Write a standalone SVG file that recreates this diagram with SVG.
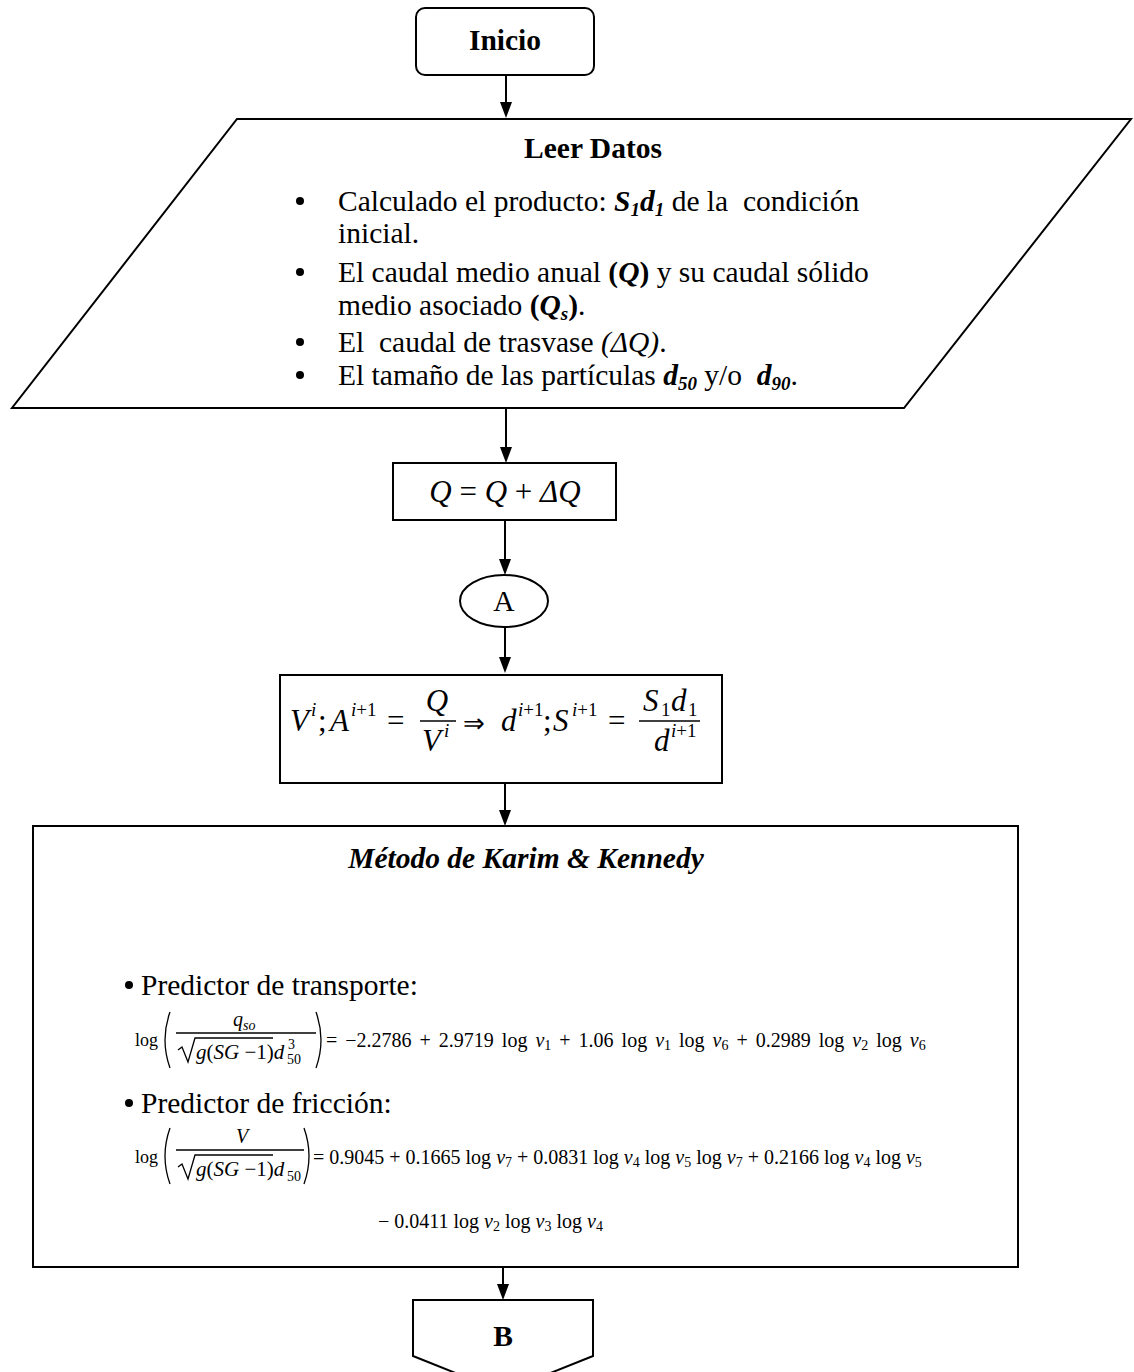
<svg xmlns="http://www.w3.org/2000/svg" width="1134" height="1372" viewBox="0 0 1134 1372">
<style>
text{font-family:"Liberation Serif","Times New Roman",serif;fill:#000}
.b{font-weight:bold}
.i{font-style:italic}
.bi{font-weight:bold;font-style:italic}
.t{font-size:29.5px}
.m{font-size:31px}
.sup{font-size:19px}
.f{font-size:20px}
.s{font-size:14px}
.shape{fill:#fff;stroke:#000;stroke-width:2}
.ln{stroke:#000;stroke-width:2;fill:none}
.thin{stroke:#000;stroke-width:1.3;fill:none}
</style>
<g id="connectors">
<line class="ln" x1="506" y1="75" x2="506" y2="104"/><path d="M500,102 L512,102 L506,118 Z"/>
<line class="ln" x1="506" y1="408" x2="506" y2="449"/><path d="M500,447 L512,447 L506,463 Z"/>
<line class="ln" x1="505" y1="520" x2="505" y2="561"/><path d="M499,559 L511,559 L505,575 Z"/>
<line class="ln" x1="505" y1="627" x2="505" y2="659"/><path d="M499,657 L511,657 L505,673 Z"/>
<line class="ln" x1="505" y1="783" x2="505" y2="812"/><path d="M499,810 L511,810 L505,826 Z"/>
<line class="ln" x1="503" y1="1267" x2="503" y2="1286"/><path d="M497,1284 L509,1284 L503,1300 Z"/>
</g>
<g id="inicio">
<rect class="shape" x="416" y="8" width="178" height="67" rx="9"/>
<text class="b t" x="505" y="50" text-anchor="middle">Inicio</text>
</g>
<g id="leer-datos">
<polygon class="shape" points="237,119 1131,119 904,408 12,408"/>
<text class="b t" x="593" y="158" text-anchor="middle">Leer Datos</text>
<g class="t">
<circle cx="300" cy="201" r="4"/>
<circle cx="300" cy="272" r="4"/>
<circle cx="300" cy="342" r="4"/>
<circle cx="300" cy="375" r="4"/>
<text x="338" y="211" xml:space="preserve">Calculado el producto: <tspan class="bi">S</tspan><tspan class="bi" font-size="19" dy="5">1</tspan><tspan class="bi" dy="-5">d</tspan><tspan class="bi" font-size="19" dy="5">1</tspan><tspan dy="-5"> de la  condición</tspan></text>
<text x="338" y="243">inicial.</text>
<text x="338" y="282">El caudal medio anual <tspan class="b">(</tspan><tspan class="bi">Q</tspan><tspan class="b">)</tspan> y su caudal sólido</text>
<text x="338" y="315">medio asociado <tspan class="b">(</tspan><tspan class="bi">Q</tspan><tspan class="bi" font-size="19" dy="5">s</tspan><tspan class="b" dy="-5">)</tspan>.</text>
<text x="338" y="352" xml:space="preserve">El  caudal de trasvase <tspan class="i">(ΔQ)</tspan>.</text>
<text x="338" y="385" xml:space="preserve">El tamaño de las partículas <tspan class="bi">d</tspan><tspan class="bi" font-size="19" dy="5">50</tspan><tspan dy="-5"> y/o  </tspan><tspan class="bi">d</tspan><tspan class="bi" font-size="19" dy="5">90</tspan><tspan dy="-5">.</tspan></text>
</g>
</g>
<g id="q-update">
<rect class="shape" x="393" y="463" width="223" height="57"/>
<text x="505" y="502" text-anchor="middle" font-size="31"><tspan class="i">Q</tspan> = <tspan class="i">Q</tspan> + <tspan class="i">ΔQ</tspan></text>
</g>
<g id="conector-a">
<ellipse class="shape" cx="504" cy="601" rx="44" ry="26"/>
<text class="t" x="504" y="611" text-anchor="middle">A</text>
</g>
<g id="calculo">
<rect class="shape" x="280" y="675" width="442" height="108"/>
<g class="m">
<text class="i" x="290" y="731">V</text>
<text class="i sup" x="311" y="716">i</text>
<text x="318" y="731">;</text>
<text class="i" x="330" y="731">A</text>
<text class="sup" x="351" y="716"><tspan class="i">i</tspan>+1</text>
<text x="387" y="731">=</text>
<text class="i" x="437" y="711" text-anchor="middle">Q</text>
<line class="thin" x1="420" y1="721" x2="456" y2="721"/>
<text class="i" x="422" y="751">V</text>
<text class="i sup" x="444" y="737">i</text>
<text x="463" y="732" font-family="DejaVu Serif" font-size="26">⇒</text>
<text class="i" x="501" y="731">d</text>
<text class="sup" x="518" y="716"><tspan class="i">i</tspan>+1</text>
<text x="543" y="731">;</text>
<text class="i" x="553" y="731">S</text>
<text class="sup" x="572" y="716"><tspan class="i">i</tspan>+1</text>
<text x="608" y="731">=</text>
<text class="i" x="643" y="711">S</text>
<text class="sup" x="661" y="716">1</text>
<text class="i" x="671" y="711">d</text>
<text class="sup" x="688" y="716">1</text>
<line class="thin" x1="639" y1="721" x2="700" y2="721"/>
<text class="i" x="654" y="751">d</text>
<text class="sup" x="671" y="737"><tspan class="i">i</tspan>+1</text>
</g>
</g>
<g id="karim-kennedy">
<rect class="shape" x="33" y="826" width="985" height="441"/>
<text class="bi t" x="526" y="868" text-anchor="middle">Método de Karim &amp; Kennedy</text>
<circle cx="129" cy="985" r="4"/>
<text class="t" x="141" y="995">Predictor de transporte:</text>
<circle cx="129" cy="1103" r="4"/>
<text class="t" x="141" y="1113">Predictor de fricción:</text>
<g class="f">
<text x="135" y="1046" font-size="18">log</text>
<path class="thin" d="M170,1012 Q160,1040 170,1068"/>
<path class="thin" d="M316,1012 Q326,1040 316,1068"/>
<text class="i" x="233" y="1026">q</text>
<text class="i s" x="243" y="1030">so</text>
<line class="thin" x1="176" y1="1033" x2="316" y2="1033"/>
<path class="thin" d="M178,1050 L182,1047 L188,1062 L195,1038 L273,1038"/>
<text x="196" y="1059" font-size="21"><tspan class="i">g</tspan>(<tspan class="i">SG</tspan> −1)<tspan class="i">d</tspan></text>
<text class="s" x="287" y="1064">50</text>
<text class="s" x="288" y="1049">3</text>
<text x="326" y="1047" word-spacing="3">= −2.2786 + 2.9719 log <tspan class="i">v</tspan><tspan class="s" dy="3">1</tspan><tspan dy="-3"> + 1.06 log </tspan><tspan class="i">v</tspan><tspan class="s" dy="3">1</tspan><tspan dy="-3"> log </tspan><tspan class="i">v</tspan><tspan class="s" dy="3">6</tspan><tspan dy="-3"> + 0.2989 log </tspan><tspan class="i">v</tspan><tspan class="s" dy="3">2</tspan><tspan dy="-3"> log </tspan><tspan class="i">v</tspan><tspan class="s" dy="3">6</tspan></text>
<text x="135" y="1163" font-size="18">log</text>
<path class="thin" d="M170,1128 Q160,1156 170,1184"/>
<path class="thin" d="M304,1128 Q314,1156 304,1184"/>
<text class="i" x="236" y="1143">V</text>
<line class="thin" x1="176" y1="1150" x2="304" y2="1150"/>
<path class="thin" d="M178,1167 L182,1164 L188,1179 L195,1155 L273,1155"/>
<text x="196" y="1176" font-size="21"><tspan class="i">g</tspan>(<tspan class="i">SG</tspan> −1)<tspan class="i">d</tspan></text>
<text class="s" x="287" y="1181">50</text>
<text x="313" y="1164">= 0.9045 + 0.1665 log <tspan class="i">v</tspan><tspan class="s" dy="3">7</tspan><tspan dy="-3"> + 0.0831 log </tspan><tspan class="i">v</tspan><tspan class="s" dy="3">4</tspan><tspan dy="-3"> log </tspan><tspan class="i">v</tspan><tspan class="s" dy="3">5</tspan><tspan dy="-3"> log </tspan><tspan class="i">v</tspan><tspan class="s" dy="3">7</tspan><tspan dy="-3"> + 0.2166 log </tspan><tspan class="i">v</tspan><tspan class="s" dy="3">4</tspan><tspan dy="-3"> log </tspan><tspan class="i">v</tspan><tspan class="s" dy="3">5</tspan></text>
<text x="378" y="1228">− 0.0411 log <tspan class="i">v</tspan><tspan class="s" dy="3">2</tspan><tspan dy="-3"> log </tspan><tspan class="i">v</tspan><tspan class="s" dy="3">3</tspan><tspan dy="-3"> log </tspan><tspan class="i">v</tspan><tspan class="s" dy="3">4</tspan></text>
</g>
</g>
<g id="conector-b">
<polygon class="shape" points="413,1300 593,1300 593,1356 503,1392 413,1356"/>
<text class="b t" x="503" y="1346" text-anchor="middle">B</text>
</g>
</svg>
